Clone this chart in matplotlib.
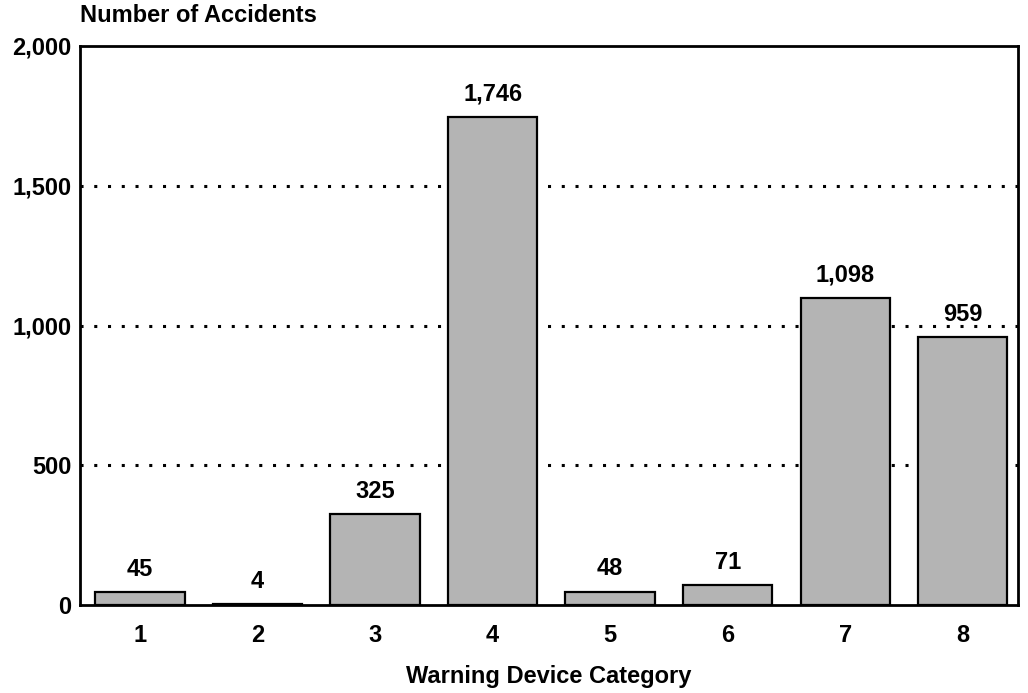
import matplotlib.pyplot as plt

categories = ['1', '2', '3', '4', '5', '6', '7', '8']
accidents = [45, 4, 325, 1746, 48, 71, 1098, 959]
value_labels = ['45', '4', '325', '1,746', '48', '71', '1,098', '959']
y_ticks = [0, 500, 1000, 1500, 2000]
y_tick_labels = ['0', '500', '1,000', '1,500', '2,000']

plt.rcParams['font.family'] = ['Liberation Sans', 'DejaVu Sans']
plt.rcParams['font.weight'] = 'bold'

fig = plt.figure(figsize=(10.28, 6.93), dpi=100)
ax = fig.add_axes([80 / 1028, 88 / 693, 938 / 1028, 559 / 693])

x = range(1, len(categories) + 1)
bars = ax.bar(x, accidents, width=0.76, color='#b4b4b4', edgecolor='black',
              linewidth=1.6, zorder=3)

# dotted gridlines behind the bars
for y in y_ticks[1:-1]:
    ax.axhline(y, color='black', linestyle=(0, (1, 3.5)), linewidth=2.2, zorder=1)

for bar, label in zip(bars, value_labels):
    ax.text(bar.get_x() + bar.get_width() / 2, bar.get_height() + 40, label,
            ha='center', va='bottom', fontsize=17)

ax.set_xlim(0.49, 8.47)
ax.set_ylim(0, 2000)
ax.set_xticks(list(x))
ax.set_xticklabels(categories, fontsize=17)
ax.set_yticks(y_ticks)
ax.set_yticklabels(y_tick_labels, fontsize=17)
ax.tick_params(axis='x', length=0, pad=14)
ax.tick_params(axis='y', length=0, pad=6)
for spine in ax.spines.values():
    spine.set_linewidth(2)

fig.text(549 / 1028, 1 - 677 / 693, 'Warning Device Category', ha='center',
         va='center', fontsize=17)
fig.text(80 / 1028, 1 - 15 / 693, 'Number of Accidents', ha='left', va='center',
         fontsize=17)

fig.savefig('out.png', dpi=100)
